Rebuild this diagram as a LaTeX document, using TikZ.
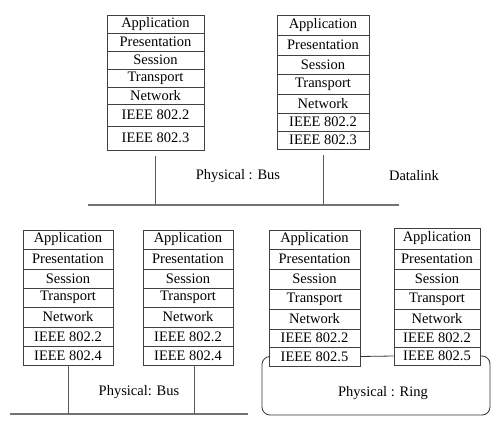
\documentclass[tikz,border=0pt]{standalone}
\usepackage{fontspec}
\setmainfont{Liberation Serif}
\newcommand\osistack[4]{% #1 prefix, #2 xl, #3 xr, #4 list n/top/bottom/text
  \foreach \n/\a/\b/\t in {#4}{%
    \node[cell, minimum width={#3-#2}, minimum height={\b-\a}] (#1\n) at ({(#2+#3)/2},{(\a+\b)/2}) {\t};
  }%
}
\begin{document}
\begin{tikzpicture}[x=1pt,y=-1pt,
  cell/.style={draw=black!75, line width=0.8pt, inner sep=0pt, font=\fontsize{14.5}{15}\selectfont},
  bus/.style={draw=black!55, line width=1.4pt},
  drop/.style={draw=black!65, line width=0.9pt},
  ring/.style={draw=black!80, line width=0.8pt, rounded corners=8pt},
  lbl/.style={font=\fontsize{14.5}{15}\selectfont, inner sep=0pt}]
\useasboundingbox (0,0) rectangle (500,435);
% top stacks
\osistack{s1}{107}{204}{1/15/33/Application,2/33/51/Presentation,3/51/69/Session,4/69/87/Transport,5/87/104/Network,6/104/126/IEEE 802.2,7/126/150/IEEE 802.3}
\osistack{s2}{277}{369}{1/15/35/Application,2/35/55/Presentation,3/55/74/Session,4/74/94/Transport,5/94/113/Network,6/113/131/IEEE 802.2,7/131/149/IEEE 802.3}
% bottom-left stacks
\osistack{a1}{23}{113}{1/230/249/Application,2/249/269/Presentation,3/269/288/Session,4/288/307/Transport,5/307/327/Network,6/327/346/IEEE 802.2,7/346/365/IEEE 802.4}
\osistack{a2}{143}{233}{1/230/249/Application,2/249/269/Presentation,3/269/288/Session,4/288/307/Transport,5/307/327/Network,6/327/346/IEEE 802.2,7/346/365/IEEE 802.4}
% bottom-right stacks
\osistack{r1}{269}{360}{1/230/249/Application,2/249/269/Presentation,3/269/289/Session,4/289/309/Transport,5/309/329/Network,6/329/347/IEEE 802.2,7/347/366/IEEE 802.5}
\osistack{r2}{394}{480}{1/228/249/Application,2/249/269/Presentation,3/269/289/Session,4/289/309/Transport,5/309/329/Network,6/329/347/IEEE 802.2,7/347/365/IEEE 802.5}
% top bus
\coordinate (busTL) at (88,205);
\coordinate (busTR) at (399,205);
\draw[bus] (busTL) -- (busTR);
\draw[drop] ([yshift=-6pt]s17.south) -- (s17.south |- busTL);
\draw[drop] ([yshift=-6pt]s27.south) -- (s27.south |- busTL);
\node[lbl] (physbus1) at (238,176) {Physical : Bus};
\node[lbl] (datalink) at (414,176) {Datalink};
% bottom-left bus
\coordinate (busBL) at (10,414);
\coordinate (busBR) at (248,414);
\draw[bus] (busBL) -- (busBR);
\draw[drop] (a17.south) -- (a17.south |- busBL);
\draw[drop] ([xshift=6pt]a27.south) -- ([xshift=6pt]a27.south |- busBL);
\node[lbl] (physbus2) at (139,392) {Physical: Bus};
% ring
\coordinate (ringBL) at (262,415);
\coordinate (ringBR) at (490,415);
\draw[ring] (r17.west) -| (ringBL) -- (ringBR) |- (r27.east);
\draw[ring] (r17.east) -- (r27.west);
\node[lbl] (physring) at (383,393) {Physical : Ring};
\end{tikzpicture}
\end{document}
